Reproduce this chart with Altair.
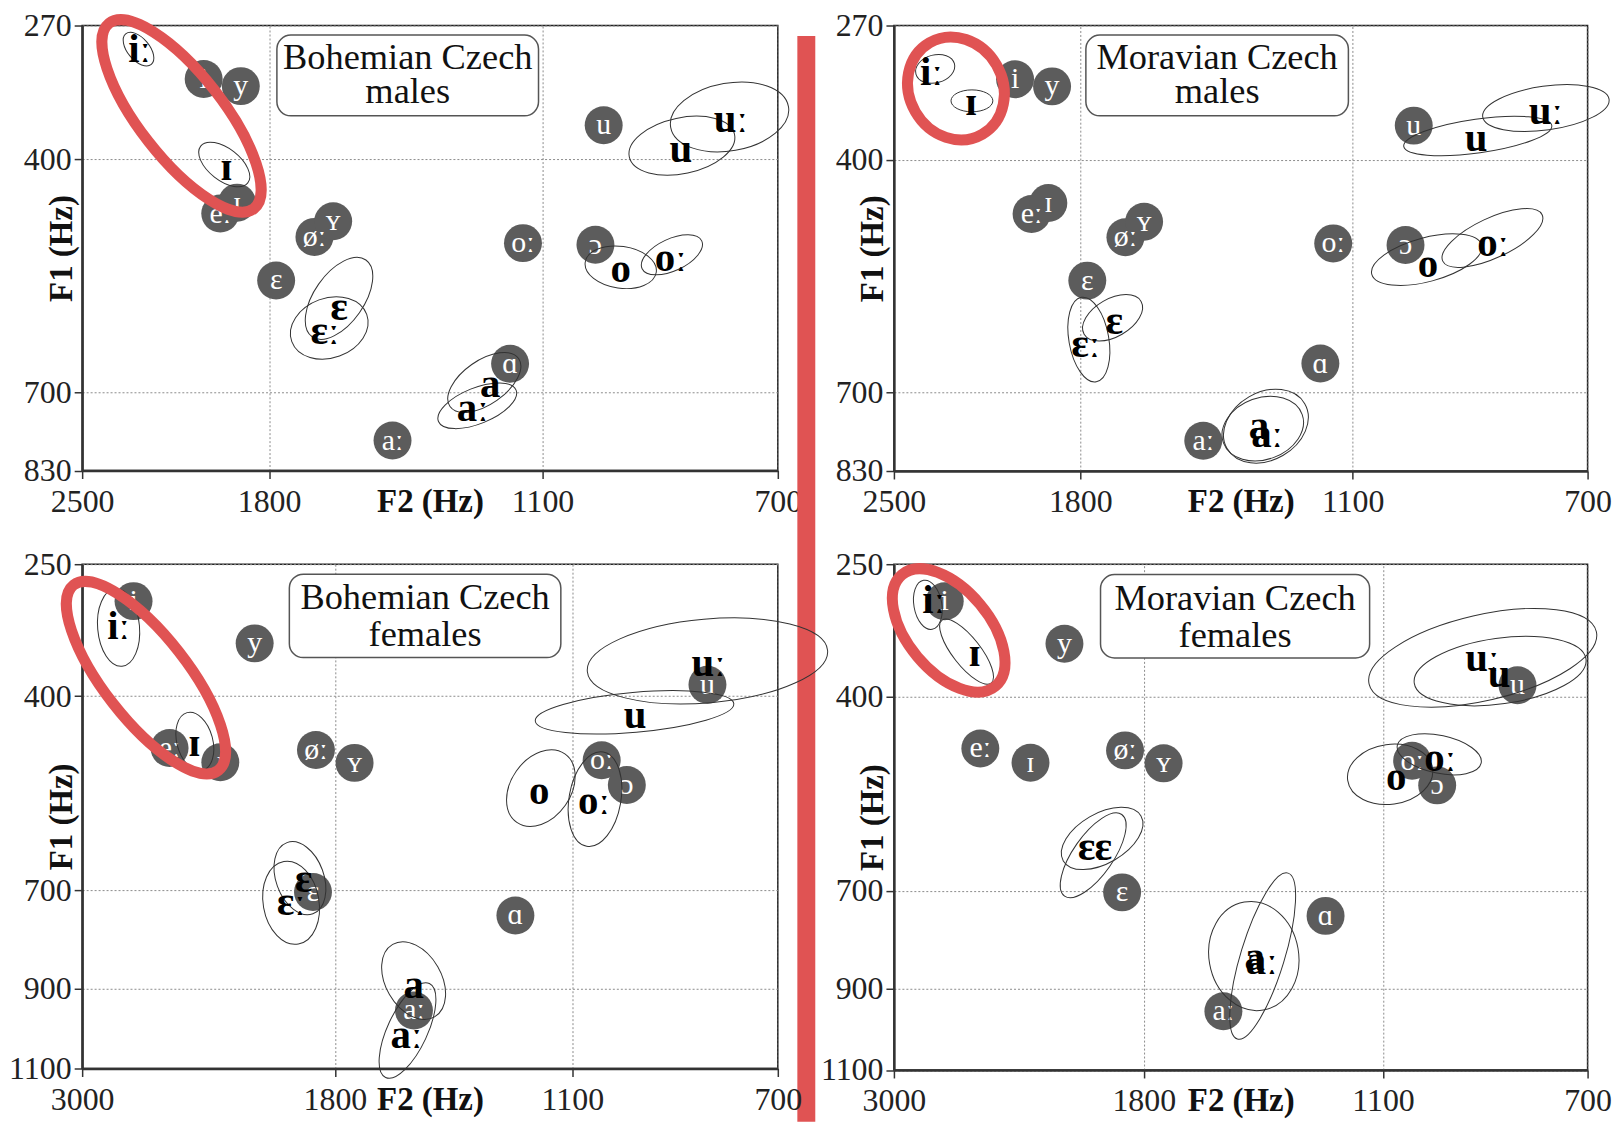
import altair as alt
import pandas as pd

FONT = "Liberation Serif"
RED = "#E05353"
GREY = "#5c5c5c"

# ---------------- data ----------------
ref_vowels = ["i", "y", "eː", "ɪ", "øː", "ʏ", "ɛ", "ɑ", "aː", "u", "oː", "ɔ"]
male_ref_f2 = [2045, 1906, 1983, 1920, 1684, 1636, 1782, 1183, 1484, 996, 1150, 1010]
male_ref_f1 = [322, 329, 470, 456, 500, 480, 556, 663, 780, 367, 508, 510]
female_ref_f2 = [2756, 2181, 2585, 2344, 1890, 1742, 1904, 1268, 1567, 837, 1043, 994]
female_ref_f1 = [292, 340, 480, 502, 483, 503, 703, 751, 955, 387, 499, 537]

mean_vowels = ["iː", "ɪ", "ɛ", "ɛː", "a", "aː", "u", "uː", "o", "oː"]

# Bohemian males
bm_f2 = [2285, 1960, 1621, 1657, 1234, 1279, 865, 780, 967, 882]
bm_f1 = [294, 412, 592, 622, 690, 727, 391, 362, 543, 528]
bm_ell_f2 = [2289, 1968, 1621, 1646, 1249, 1267, 863, 782, 967, 880]
bm_ell_f1 = [293, 407, 579, 617, 687, 722, 387, 359, 539, 523]
bm_ell_rx = [20, 30, 47, 40, 42, 42, 54, 60, 36, 33]
bm_ell_ry = [11, 16, 25, 30, 22, 18, 28, 34, 21, 16]
bm_ell_ang = [50, 38, -55, -20, -35, -22, -12, -10, 8, -25]

# Moravian males
mm_f2 = [2359, 2210, 1713, 1786, 1341, 1320, 890, 771, 972, 861]
mm_f1 = [316, 345, 609, 639, 758, 771, 380, 354, 536, 509]
mm_ell_f2 = [2345, 2207, 1717, 1778, 1323, 1331, 887, 771, 974, 862]
mm_ell_f1 = [312, 343, 604, 632, 756, 760, 377, 350, 529, 501]
mm_ell_rx = [20, 21, 33, 43, 45, 42, 75, 64, 57, 55]
mm_ell_ry = [14, 11, 19, 20, 34, 31, 17, 22, 22, 20]
mm_ell_ang = [-15, 0, -30, 80, -30, -20, -8, -8, -15, -25]

# Bohemian females
bf_f2 = [2827, 2467, 1949, 2008, 1568, 1589, 978, 835, 1198, 1058]
bf_f1 = [322, 474, 684, 725, 896, 1020, 431, 364, 548, 564]
bf_ell_f2 = [2827, 2465, 1966, 2008, 1568, 1586, 979, 837, 1193, 1056]
bf_ell_f1 = [322, 470, 681, 725, 884, 1005, 425, 360, 542, 559]
bf_ell_rx = [39, 30, 38, 42, 42, 52, 100, 121, 42, 48]
bf_ell_ry = [21, 18, 24, 28, 28, 20, 20, 42, 30, 26]
bf_ell_ang = [85, 75, 70, 80, 60, -65, -5, -5, -55, -80]

# Moravian females
mf_f2 = [2809, 2612, 1995, 2048, 1475, 1455, 873, 906, 1074, 988]
mf_f1 = [292, 352, 634, 634, 837, 845, 375, 357, 525, 496]
mf_ell_f2 = [2837, 2651, 2000, 2043, 1478, 1452, 871, 905, 1086, 990]
mf_ell_f1 = [296, 349, 619, 645, 833, 833, 371, 356, 520, 489]
mf_ell_rx = [25, 40, 45, 50, 55, 87, 87, 117, 43, 43]
mf_ell_ry = [14, 14, 25, 20, 45, 22, 33, 43, 30, 19]
mf_ell_ang = [80, 52, -30, -55, 80, -73, -8, -13, -8, 12]

# red highlight ellipses: f2, f1, rx, ry, angle
red_tl = [2128, 358, 118, 42, 52]
red_tr = [2267, 331, 53, 47, 60]
red_bl = [2697, 379, 118, 42, 52]
red_br = [2737, 325, 73, 41, 50]

male_ticks_f2 = [2500, 1800, 1100, 700]
male_ticks_f1 = [270, 400, 700, 830]
female_ticks_f2 = [3000, 1800, 1100, 700]
female_ticks_f1 = [250, 400, 700, 900, 1100]


def ell_path(rx, ry):
    return f"M{-rx},0A{rx},{ry} 0 1,1 {rx},0A{rx},{ry} 0 1,1 {-rx},0Z"


common_axis = dict(
    grid=True, gridColor="#8c8c8c", gridDash=[2, 2], gridWidth=1,
    domain=True, domainColor="#333333", domainWidth=2.5,
    ticks=True, tickColor="#333333", tickSize=8, tickWidth=1.5,
    labelFont=FONT, labelFontSize=32, labelColor="#222222",
    titleFont=FONT, titleFontSize=33, titleFontWeight="bold", titleColor="#111111",
    labelOverlap=False, labelFlush=False, format="d",
)


def panel(cfg):
    W, H = cfg["W"], cfg["H"]
    xs = alt.Scale(domain=cfg["xdom"], range=cfg["xrng"], nice=False, zero=False)
    ys = alt.Scale(domain=cfg["ydom"], range=cfg["yrng"], nice=False, zero=False)
    xax = alt.Axis(values=cfg["xdom"], title="F2 (Hz)", titleX=W / 2, titleY=41,
                   titleBaseline="alphabetic", titleAlign="center", labelPadding=8,
                   labelBaseline="top", **common_axis)
    yax = alt.Axis(values=cfg["ydom"], title="F1 (Hz)", titleX=-21, titleY=H / 2,
                   titleAngle=270, titleBaseline="middle", titleAlign="center",
                   labelPadding=3, **common_axis)
    X = alt.X("f2:Q", scale=xs, axis=xax)
    Y = alt.Y("f1:Q", scale=ys, axis=yax)

    ref = pd.DataFrame({"lab": ref_vowels, "f2": cfg["ref_f2"], "f1": cfg["ref_f1"]})
    means = pd.DataFrame({"lab": mean_vowels, "f2": cfg["m_f2"], "f1": cfg["m_f1"]})
    ell = pd.DataFrame({
        "lab": mean_vowels, "f2": cfg["e_f2"], "f1": cfg["e_f1"],
        "path": [ell_path(a, b) for a, b in zip(cfg["e_rx"], cfg["e_ry"])],
        "ang": cfg["e_ang"],
    })
    r = cfg["red"]
    red = pd.DataFrame({"f2": [r[0]], "f1": [r[1]], "path": [ell_path(r[2], r[3])], "ang": [r[4]]})
    one = pd.DataFrame({"k": [0]})

    layers = []
    if cfg.get("anchor"):
        # invisible 1px anchor fixing the top-left of the whole figure
        layers.append(alt.Chart(one).mark_rect(fill="white", opacity=1).encode(
            x=alt.value(-80), x2=alt.value(-79.4), y=alt.value(-45), y2=alt.value(-44.4)))

    bx = cfg["box"]
    layers.append(alt.Chart(one).mark_rect(cornerRadius=14, fill="white", stroke="#555555",
                                           strokeWidth=1.5).encode(
        x=alt.value(bx[0]), x2=alt.value(bx[1]), y=alt.value(bx[2]), y2=alt.value(bx[3])))
    layers.append(alt.Chart(one).mark_text(font=FONT, fontSize=36.5, color="#111111",
                                           align="center", baseline="alphabetic").encode(
        x=alt.value(bx[4]), y=alt.value(bx[5]), text=alt.value(cfg["t1"])))
    layers.append(alt.Chart(one).mark_text(font=FONT, fontSize=36.5, color="#111111",
                                           align="center", baseline="alphabetic").encode(
        x=alt.value(bx[4]), y=alt.value(bx[6]), text=alt.value(cfg["t2"])))

    layers.append(alt.Chart(ref).mark_circle(size=1450, color=GREY, opacity=1).encode(x=X, y=Y))
    layers.append(alt.Chart(ref).mark_text(font=FONT, fontSize=30, color="white",
                                           baseline="middle", align="center").encode(
        x=X, y=Y, text="lab:N"))
    layers.append(alt.Chart(ell).mark_point(size=4, filled=False, color="#333333",
                                            strokeWidth=1, opacity=1).encode(
        x=X, y=Y, shape=alt.Shape("path:N", scale=None), angle=alt.Angle("ang:Q", scale=None)))
    layers.append(alt.Chart(means).mark_text(font=FONT, fontSize=41, fontWeight="bold",
                                             color="black", baseline="middle",
                                             align="center").encode(
        x=X, y=Y, text="lab:N"))
    layers.append(alt.Chart(red).mark_point(size=4, filled=False, color=RED,
                                            strokeWidth=11, opacity=1).encode(
        x=X, y=Y, shape=alt.Shape("path:N", scale=None), angle=alt.Angle("ang:Q", scale=None)))
    if cfg.get("redline"):
        layers.append(alt.Chart(one).mark_rect(color=RED, opacity=1).encode(
            x=alt.value(717.6), x2=alt.value(735.6), y=alt.value(10.6), y2=alt.value(1100)))
    return alt.layer(*layers).properties(width=W, height=H)


tl = panel(dict(
    W=698, H=446.5, xdom=male_ticks_f2, xrng=[0, 187.6, 461.9, 698],
    ydom=male_ticks_f1, yrng=[0, 134, 368.3, 446.5],
    ref_f2=male_ref_f2, ref_f1=male_ref_f1, m_f2=bm_f2, m_f1=bm_f1,
    e_f2=bm_ell_f2, e_f1=bm_ell_f1, e_rx=bm_ell_rx, e_ry=bm_ell_ry, e_ang=bm_ell_ang,
    red=red_tl, box=[195.4, 457.9, 9.6, 90.6, 326.7, 44, 77.3],
    t1="Bohemian Czech", t2="males", anchor=True, redline=True))

tr = panel(dict(
    W=696, H=447, xdom=male_ticks_f2, xrng=[0, 187, 460.3, 696],
    ydom=male_ticks_f1, yrng=[0, 134.6, 368, 447],
    ref_f2=male_ref_f2, ref_f1=male_ref_f1, m_f2=mm_f2, m_f1=mm_f1,
    e_f2=mm_ell_f2, e_f1=mm_ell_f1, e_rx=mm_ell_rx, e_ry=mm_ell_ry, e_ang=mm_ell_ang,
    red=red_tr, box=[192.6, 456, 9.6, 90.6, 324.3, 44, 77.3],
    t1="Moravian Czech", t2="males"))

bl = panel(dict(
    W=698, H=506, xdom=female_ticks_f2, xrng=[0, 253.6, 491.9, 698],
    ydom=female_ticks_f1, yrng=[0, 132.4, 327.4, 425.7, 506],
    ref_f2=female_ref_f2, ref_f1=female_ref_f1, m_f2=bf_f2, m_f1=bf_f1,
    e_f2=bf_ell_f2, e_f1=bf_ell_f1, e_rx=bf_ell_rx, e_ry=bf_ell_ry, e_ang=bf_ell_ang,
    red=red_bl, box=[207.9, 480.3, 10, 93.7, 344.1, 45, 81.7],
    t1="Bohemian Czech", t2="females"))

br = panel(dict(
    W=696, H=507.5, xdom=female_ticks_f2, xrng=[0, 250.7, 490.7, 696],
    ydom=female_ticks_f1, yrng=[0, 132.9, 327.8, 426.1, 507.5],
    ref_f2=female_ref_f2, ref_f1=female_ref_f1, m_f2=mf_f2, m_f1=mf_f1,
    e_f2=mf_ell_f2, e_f1=mf_ell_f1, e_rx=mf_ell_rx, e_ry=mf_ell_ry, e_ang=mf_ell_ang,
    red=red_br, box=[207.3, 477.3, 10.4, 94, 342.3, 45.7, 82.8],
    t1="Moravian Czech", t2="females"))

chart = alt.concat(
    tl, tr, bl, br, columns=2,
    spacing={"row": 93.5, "column": 116.5},
    bounds="flush", align="each",
).properties(
    padding={"left": -6.6, "top": -30.3, "right": 0, "bottom": 0}
).configure_view(stroke="#222222", strokeWidth=1.5)

chart.save("out.html", embed_options={"renderer": "svg", "actions": False})
